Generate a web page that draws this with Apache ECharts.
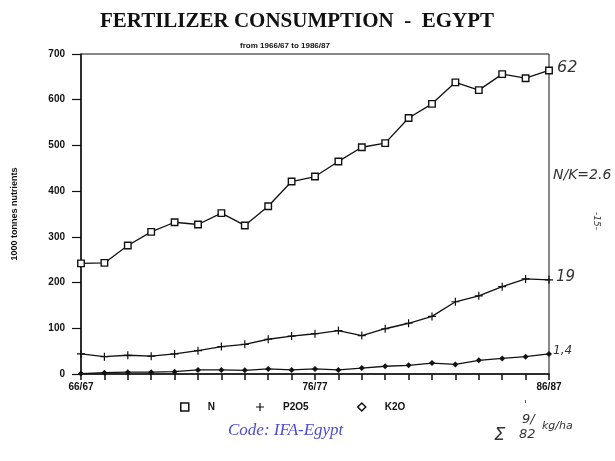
<!DOCTYPE html>
<html>
<head>
<meta charset="utf-8">
<script src="https://cdn.jsdelivr.net/npm/echarts@6/dist/echarts.min.js"></script>
<style>
  html, body { margin: 0; padding: 0; background: #fff; }
  #chart { width: 615px; height: 461px; }
</style>
</head>
<body>
<div id="chart"></div>
<script>
// seasons 1966/67 .. 1986/87
const years = ['66/67', '67/68', '68/69', '69/70', '70/71', '71/72', '72/73', '73/74', '74/75', '75/76',
  '76/77', '77/78', '78/79', '79/80', '80/81', '81/82', '82/83', '83/84', '84/85', '85/86', '86/87']
const shownTicks = ['66/67', '76/77', '86/87']

// 1000 tonnes nutrients
const nValues = [242, 243, 281, 311, 332, 327, 352, 325, 367, 421, 432, 465, 496, 505, 560, 591, 638, 621, 656, 647, 664]
const p2o5Values = [44, 38, 41, 39, 44, 51, 60, 65, 76, 83, 88, 95, 84, 99, 111, 126, 158, 171, 191, 208, 206]
const k2oValues = [1, 3, 4, 4, 5, 9, 9, 8, 11, 9, 11, 9, 13, 17, 19, 24, 21, 30, 34, 38, 44]

const plusPath = 'path://M3.4,0h1.2v3.4h3.4v1.2h-3.4v3.4h-1.2v-3.4h-3.4v-1.2h3.4z'
const hand = { fontFamily: 'DejaVu Sans', fontStyle: 'italic', fill: '#333', fontWeight: 'lighter' }
const legendText = { fontFamily: 'Liberation Sans', fontWeight: 'bold', fontSize: 10, color: '#111', padding: [0, 0, 0, 14] }

function legendAt (left, item) {
  return { left: left, top: 397, itemWidth: 8, itemHeight: 8, textStyle: legendText, data: [item] }
}

const chart = echarts.init(document.getElementById('chart'))
chart.setOption({
  backgroundColor: '#fff',
  animation: false,
  title: [
    {
      text: 'FERTILIZER CONSUMPTION  -  EGYPT',
      left: 292,
      top: 6,
      textAlign: 'center',
      textStyle: { fontFamily: 'Liberation Serif', fontWeight: 'bold', fontSize: 21, color: '#111' }
    },
    {
      text: 'from 1966/67 to 1986/87',
      left: 280,
      top: 37,
      textAlign: 'center',
      textStyle: { fontFamily: 'Liberation Sans', fontWeight: 'bold', fontSize: 8, color: '#111' }
    }
  ],
  grid: {
    left: 81,
    right: 66,
    top: 54,
    bottom: 87,
    show: true,
    borderColor: '#111',
    borderWidth: 1
  },
  legend: [
    legendAt(175, { name: 'N', icon: 'rect', itemStyle: { color: '#fff', borderColor: '#111', borderWidth: 1.5 } }),
    legendAt(251, { name: 'P2O5', icon: plusPath, itemStyle: { color: '#111' } }),
    legendAt(352, { name: 'K2O', icon: 'diamond', itemStyle: { color: '#fff', borderColor: '#111', borderWidth: 1.5 } })
  ],
  xAxis: {
    type: 'category',
    data: years,
    boundaryGap: false,
    axisLine: { lineStyle: { color: '#111', width: 1.5 } },
    axisTick: { length: 6, lineStyle: { color: '#111', width: 1.5 } },
    axisLabel: {
      interval: 0,
      margin: 8,
      fontFamily: 'Liberation Sans',
      fontWeight: 'bold',
      fontSize: 10,
      color: '#111',
      formatter: v => (shownTicks.includes(v) ? v : '')
    }
  },
  yAxis: {
    type: 'value',
    min: 0,
    max: 700,
    interval: 100,
    name: '1000 tonnes nutrients',
    nameLocation: 'middle',
    nameGap: 62,
    nameTextStyle: { fontFamily: 'Liberation Sans', fontWeight: 'bold', fontSize: 9, color: '#111' },
    axisLine: { show: true, lineStyle: { color: '#111', width: 1.5 } },
    axisTick: { show: true, length: 9, lineStyle: { color: '#111', width: 1.2 } },
    splitLine: { show: false },
    axisLabel: { margin: 16, fontFamily: 'Liberation Sans', fontWeight: 'bold', fontSize: 10, color: '#111' }
  },
  series: [
    {
      name: 'N',
      type: 'line',
      data: nValues,
      symbol: 'rect',
      symbolSize: 6.5,
      lineStyle: { color: '#111', width: 1.3 },
      itemStyle: { color: '#fff', borderColor: '#111', borderWidth: 1.4 }
    },
    {
      name: 'P2O5',
      type: 'line',
      data: p2o5Values,
      symbol: plusPath,
      symbolSize: 8,
      lineStyle: { color: '#111', width: 1.3 },
      itemStyle: { color: '#111' }
    },
    {
      name: 'K2O',
      type: 'line',
      data: k2oValues,
      symbol: 'diamond',
      symbolSize: 6,
      lineStyle: { color: '#111', width: 1.3 },
      itemStyle: { color: '#111' }
    }
  ],
  graphic: [
    { type: 'text', left: 557, top: 60, style: Object.assign({ text: '62', fontSize: 16 }, hand) },
    { type: 'text', left: 553, top: 168, style: Object.assign({ text: 'N/K=2.6', fontSize: 14 }, hand) },
    { type: 'text', left: 592, top: 212, rotation: -Math.PI / 2, style: Object.assign({ text: '-15-', fontSize: 9 }, hand) },
    { type: 'text', left: 556, top: 270, style: Object.assign({ text: '19', fontSize: 15 }, hand) },
    { type: 'text', left: 553, top: 345, style: Object.assign({ text: '1,4', fontSize: 12 }, hand) },
    { type: 'text', left: 494, top: 426, style: Object.assign({ text: 'Σ', fontSize: 18 }, hand) },
    { type: 'text', left: 524, top: 400, style: Object.assign({ text: '\'', fontSize: 10 }, hand) },
    { type: 'text', left: 522, top: 413, style: Object.assign({ text: '9/', fontSize: 13 }, hand) },
    { type: 'text', left: 519, top: 428, style: Object.assign({ text: '82', fontSize: 13 }, hand) },
    { type: 'text', left: 542, top: 421, style: Object.assign({ text: 'kg/ha', fontSize: 11 }, hand) },
    {
      type: 'text',
      left: 228,
      top: 422,
      style: { text: 'Code: IFA-Egypt', fontFamily: 'Liberation Serif', fontStyle: 'italic', fontSize: 17, fill: '#4b4bcf' }
    }
  ]
})
</script>
</body>
</html>
